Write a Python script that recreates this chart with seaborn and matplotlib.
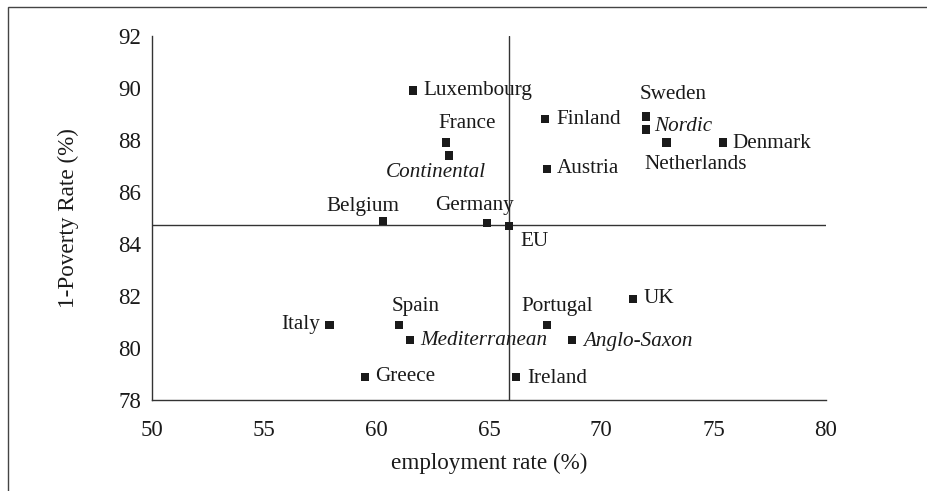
import matplotlib
matplotlib.use("Agg")
import matplotlib.pyplot as plt
import seaborn as sns
import pandas as pd
from matplotlib.patches import Rectangle

# data
labels = ["Luxembourg", "France", "Continental", "Belgium", "Germany", "EU",
          "Finland", "Austria", "Sweden", "Nordic", "Netherlands", "Denmark",
          "UK", "Italy", "Spain", "Mediterranean", "Portugal", "Anglo-Saxon",
          "Greece", "Ireland"]
employment = [61.6, 63.1, 63.2, 60.3, 64.9, 65.9,
              67.5, 67.6, 72.0, 72.0, 72.9, 75.4,
              71.4, 57.9, 61.0, 61.5, 67.6, 68.7,
              59.5, 66.2]
poverty = [89.9, 87.9, 87.4, 84.9, 84.8, 84.7,
           88.8, 86.9, 88.9, 88.4, 87.9, 87.9,
           81.9, 80.9, 80.9, 80.3, 80.9, 80.3,
           78.9, 78.9]
regimes = ["Continental", "Nordic", "Mediterranean", "Anglo-Saxon"]

eu_employment = 65.9
eu_poverty = 84.75

df = pd.DataFrame({"employment": employment, "poverty": poverty, "label": labels})

# label placement (offset in points, ha)
offsets = {
    "Luxembourg": (8, 0, "left"),
    "France": (15, 14, "center"),
    "Continental": (-9, -12, "center"),
    "Belgium": (-15, 10, "center"),
    "Germany": (-9, 13, "center"),
    "EU": (8, -11, "left"),
    "Finland": (8, 0, "left"),
    "Austria": (7, 0, "left"),
    "Sweden": (19, 16, "center"),
    "Nordic": (6, 2, "left"),
    "Netherlands": (21, -16, "center"),
    "Denmark": (7, -1, "left"),
    "UK": (8, 0, "left"),
    "Italy": (-7, 0, "right"),
    "Spain": (12, 13, "center"),
    "Mediterranean": (7, 0, "left"),
    "Portugal": (7, 13, "center"),
    "Anglo-Saxon": (8, -1, "left"),
    "Greece": (7, 0, "left"),
    "Ireland": (8, -1, "left"),
}

sns.set_style("white")
plt.rcParams["font.family"] = ["Liberation Serif", "DejaVu Serif"]

fig = plt.figure(figsize=(9.27, 4.91), dpi=100)
ax = fig.add_axes([0.164, 0.185, 0.727, 0.742])

sns.scatterplot(data=df, x="employment", y="poverty", marker="s", s=34,
                color="#1a1a1a", edgecolor="none", ax=ax, zorder=3)

ax.axvline(eu_employment, color="#333333", lw=1, zorder=1)
ax.axhline(eu_poverty, color="#333333", lw=1, zorder=1)

for name, x, y in zip(labels, employment, poverty):
    dx, dy, ha = offsets[name]
    style = "italic" if name in regimes else "normal"
    ax.annotate(name, (x, y), xytext=(dx, dy), textcoords="offset points",
                ha=ha, va="center", fontsize=15.2, fontstyle=style, color="#1a1a1a")

ax.set_xlim(50, 80)
ax.set_ylim(78, 92)
ax.set_xticks(range(50, 81, 5))
ax.set_yticks(range(78, 93, 2))
ax.tick_params(axis="both", direction="out", length=5, width=1, color="#333333",
               labelsize=16.5, labelcolor="#1a1a1a", pad=3)
ax.tick_params(axis="x", pad=9)
sns.despine(ax=ax)
for side in ["left", "bottom"]:
    ax.spines[side].set_color("#333333")
    ax.spines[side].set_linewidth(1)

ax.set_xlabel("employment rate (%)", fontsize=16.7, color="#1a1a1a", labelpad=9)
ax.set_ylabel("1-Poverty Rate (%)", fontsize=16.7, color="#1a1a1a", labelpad=28)

# outer frame (only left and top edges visible)
fig.patches.append(Rectangle((8 / 927, -0.1), 1.2, 1.1 - 7 / 491,
                             transform=fig.transFigure, fill=False,
                             edgecolor="#444444", lw=1))

fig.savefig("out.png", dpi=100)
